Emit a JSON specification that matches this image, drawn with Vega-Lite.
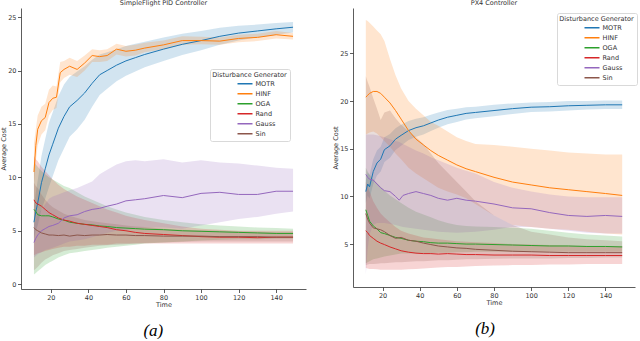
{
"$schema": "https://vega.github.io/schema/vega-lite/v6.json",
"padding": {"left": 0, "top": 0, "right": 0, "bottom": 0},
"config": {
  "view": {"stroke": null},
  "font": "DejaVu Sans",
  "axis": {"grid": false, "domainColor": "#333333", "domainWidth": 0.8, "tickColor": "#333333", "tickWidth": 0.8, "tickSize": 3.5, "labelFontSize": 6.5, "labelColor": "#333333", "labelPadding": 1.5, "titleFontSize": 6.5, "titleFontWeight": "normal", "titleColor": "#333333", "titlePadding": 1},
  "legend": {"titleFontSize": 6.5, "titleFontWeight": "normal", "titleColor": "#333333", "labelFontSize": 6.5, "labelColor": "#333333", "symbolType": "stroke", "symbolSize": 225, "symbolStrokeWidth": 1.5, "symbolOpacity": 1, "strokeColor": "#d9d9d9", "fillColor": "white", "padding": 2.5, "cornerRadius": 2, "symbolOffset": 13, "labelOffset": 2, "rowPadding": 0, "clipHeight": 9.4, "titleAnchor": "middle", "titlePadding": 1}
},
"datasets": {
"A": [
{"g":"MOTR","t":11,"m":5.8,"l":4.3,"h":7.3},{"g":"MOTR","t":12,"m":6.8,"l":5.0,"h":8.6},{"g":"MOTR","t":13,"m":7.6,"l":5.5,"h":9.7},{"g":"MOTR","t":15,"m":9.5,"l":7.0,"h":12.0},{"g":"MOTR","t":17,"m":10.8,"l":8.0,"h":13.6},{"g":"MOTR","t":19,"m":12.1,"l":9.1,"h":15.1},{"g":"MOTR","t":21,"m":13.1,"l":10.1,"h":16.1},{"g":"MOTR","t":24,"m":14.6,"l":11.6,"h":17.6},{"g":"MOTR","t":27,"m":15.7,"l":12.7,"h":18.7},{"g":"MOTR","t":30,"m":16.6,"l":13.8,"h":19.4},{"g":"MOTR","t":34,"m":17.2,"l":14.5,"h":19.9},{"g":"MOTR","t":38,"m":17.9,"l":15.4,"h":20.4},{"g":"MOTR","t":42,"m":18.8,"l":16.6,"h":21.0},{"g":"MOTR","t":46,"m":19.6,"l":17.7,"h":21.5},{"g":"MOTR","t":50,"m":20.0,"l":18.3,"h":21.7},{"g":"MOTR","t":55,"m":20.5,"l":19.0,"h":22.0},{"g":"MOTR","t":60,"m":20.9,"l":19.5,"h":22.3},{"g":"MOTR","t":65,"m":21.2,"l":19.9,"h":22.5},{"g":"MOTR","t":70,"m":21.5,"l":20.3,"h":22.7},{"g":"MOTR","t":80,"m":22.0,"l":20.9,"h":23.1},{"g":"MOTR","t":90,"m":22.45,"l":21.45,"h":23.45},{"g":"MOTR","t":100,"m":22.8,"l":21.9,"h":23.7},{"g":"MOTR","t":110,"m":23.2,"l":22.4,"h":24.0},{"g":"MOTR","t":120,"m":23.5,"l":22.8,"h":24.2},{"g":"MOTR","t":130,"m":23.7,"l":23.1,"h":24.3},{"g":"MOTR","t":140,"m":23.9,"l":23.35,"h":24.45},{"g":"MOTR","t":149,"m":24.05,"l":23.55,"h":24.55},
{"g":"HINF","t":11,"m":10.5,"l":9.3,"h":13.2},{"g":"HINF","t":12,"m":13.0,"l":11.5,"h":14.5},{"g":"HINF","t":13,"m":14.5,"l":13.0,"h":15.8},{"g":"HINF","t":15,"m":15.3,"l":14.0,"h":16.6},{"g":"HINF","t":17,"m":15.6,"l":14.4,"h":16.9},{"g":"HINF","t":19,"m":17.0,"l":15.8,"h":18.2},{"g":"HINF","t":21,"m":17.4,"l":16.3,"h":18.6},{"g":"HINF","t":23,"m":17.5,"l":16.5,"h":18.5},{"g":"HINF","t":25,"m":19.8,"l":18.9,"h":20.8},{"g":"HINF","t":27,"m":20.1,"l":19.3,"h":20.9},{"g":"HINF","t":30,"m":20.4,"l":19.6,"h":21.2},{"g":"HINF","t":34,"m":20.1,"l":19.4,"h":20.9},{"g":"HINF","t":38,"m":20.7,"l":20.0,"h":21.4},{"g":"HINF","t":42,"m":21.4,"l":20.8,"h":22.0},{"g":"HINF","t":46,"m":21.3,"l":20.8,"h":21.9},{"g":"HINF","t":50,"m":21.4,"l":20.9,"h":22.0},{"g":"HINF","t":55,"m":22.0,"l":21.5,"h":22.5},{"g":"HINF","t":60,"m":21.8,"l":21.3,"h":22.3},{"g":"HINF","t":65,"m":21.9,"l":21.4,"h":22.4},{"g":"HINF","t":70,"m":22.1,"l":21.7,"h":22.6},{"g":"HINF","t":80,"m":22.4,"l":22.0,"h":22.8},{"g":"HINF","t":90,"m":22.8,"l":22.4,"h":23.2},{"g":"HINF","t":100,"m":22.8,"l":22.45,"h":23.15},{"g":"HINF","t":110,"m":22.75,"l":22.4,"h":23.1},{"g":"HINF","t":120,"m":23.0,"l":22.65,"h":23.35},{"g":"HINF","t":130,"m":23.1,"l":22.75,"h":23.45},{"g":"HINF","t":140,"m":23.35,"l":23.0,"h":23.7},{"g":"HINF","t":149,"m":23.2,"l":22.9,"h":23.5},
{"g":"OGA","t":11,"m":7.0,"l":0.9,"h":11.5},{"g":"OGA","t":12,"m":6.8,"l":1.05,"h":11.2},{"g":"OGA","t":13,"m":6.5,"l":1.2,"h":11.0},{"g":"OGA","t":15,"m":6.4,"l":1.5,"h":10.6},{"g":"OGA","t":17,"m":6.4,"l":1.8,"h":10.3},{"g":"OGA","t":19,"m":6.4,"l":2.0,"h":10.0},{"g":"OGA","t":21,"m":6.3,"l":2.2,"h":9.8},{"g":"OGA","t":24,"m":6.1,"l":2.5,"h":9.5},{"g":"OGA","t":27,"m":6.0,"l":2.7,"h":9.2},{"g":"OGA","t":30,"m":5.8,"l":2.9,"h":9.0},{"g":"OGA","t":34,"m":5.7,"l":3.0,"h":8.6},{"g":"OGA","t":38,"m":5.6,"l":3.1,"h":8.2},{"g":"OGA","t":42,"m":5.55,"l":3.2,"h":7.9},{"g":"OGA","t":46,"m":5.45,"l":3.3,"h":7.6},{"g":"OGA","t":50,"m":5.4,"l":3.4,"h":7.3},{"g":"OGA","t":55,"m":5.3,"l":3.5,"h":7.0},{"g":"OGA","t":60,"m":5.25,"l":3.6,"h":6.7},{"g":"OGA","t":65,"m":5.2,"l":3.7,"h":6.5},{"g":"OGA","t":70,"m":5.15,"l":3.8,"h":6.3},{"g":"OGA","t":80,"m":5.1,"l":3.9,"h":6.0},{"g":"OGA","t":90,"m":5.0,"l":4.0,"h":5.8},{"g":"OGA","t":100,"m":4.95,"l":4.1,"h":5.6},{"g":"OGA","t":110,"m":4.9,"l":4.15,"h":5.5},{"g":"OGA","t":120,"m":4.85,"l":4.2,"h":5.4},{"g":"OGA","t":130,"m":4.8,"l":4.2,"h":5.3},{"g":"OGA","t":140,"m":4.75,"l":4.25,"h":5.25},{"g":"OGA","t":149,"m":4.75,"l":4.25,"h":5.2},
{"g":"Rand","t":11,"m":7.9,"l":2.7,"h":12.0},{"g":"Rand","t":12,"m":7.6,"l":2.8,"h":11.7},{"g":"Rand","t":13,"m":7.5,"l":2.9,"h":11.5},{"g":"Rand","t":15,"m":7.3,"l":3.0,"h":11.0},{"g":"Rand","t":17,"m":7.0,"l":3.1,"h":10.6},{"g":"Rand","t":19,"m":6.7,"l":3.2,"h":10.2},{"g":"Rand","t":21,"m":6.5,"l":3.3,"h":9.8},{"g":"Rand","t":24,"m":6.2,"l":3.4,"h":9.3},{"g":"Rand","t":27,"m":6.0,"l":3.5,"h":8.9},{"g":"Rand","t":30,"m":5.9,"l":3.5,"h":8.6},{"g":"Rand","t":34,"m":5.7,"l":3.6,"h":8.2},{"g":"Rand","t":38,"m":5.6,"l":3.6,"h":7.9},{"g":"Rand","t":42,"m":5.5,"l":3.7,"h":7.6},{"g":"Rand","t":46,"m":5.4,"l":3.7,"h":7.3},{"g":"Rand","t":50,"m":5.3,"l":3.7,"h":7.0},{"g":"Rand","t":55,"m":5.1,"l":3.8,"h":6.7},{"g":"Rand","t":60,"m":5.0,"l":3.8,"h":6.4},{"g":"Rand","t":65,"m":4.85,"l":3.8,"h":6.2},{"g":"Rand","t":70,"m":4.75,"l":3.8,"h":6.0},{"g":"Rand","t":80,"m":4.65,"l":3.8,"h":5.7},{"g":"Rand","t":90,"m":4.55,"l":3.8,"h":5.4},{"g":"Rand","t":100,"m":4.45,"l":3.8,"h":5.2},{"g":"Rand","t":110,"m":4.4,"l":3.8,"h":5.1},{"g":"Rand","t":120,"m":4.4,"l":3.8,"h":5.0},{"g":"Rand","t":130,"m":4.35,"l":3.8,"h":5.0},{"g":"Rand","t":140,"m":4.4,"l":3.8,"h":5.0},{"g":"Rand","t":149,"m":4.4,"l":3.8,"h":5.0},
{"g":"Gauss","t":11,"m":3.9,"l":2.5,"h":5.5},{"g":"Gauss","t":12,"m":4.3,"l":2.65,"h":6.0},{"g":"Gauss","t":13,"m":4.6,"l":2.8,"h":6.5},{"g":"Gauss","t":15,"m":5.0,"l":3.0,"h":7.0},{"g":"Gauss","t":17,"m":5.2,"l":3.2,"h":7.5},{"g":"Gauss","t":19,"m":5.4,"l":3.3,"h":8.0},{"g":"Gauss","t":21,"m":5.5,"l":3.4,"h":8.2},{"g":"Gauss","t":24,"m":5.7,"l":3.6,"h":8.4},{"g":"Gauss","t":27,"m":6.2,"l":3.8,"h":8.6},{"g":"Gauss","t":30,"m":6.4,"l":4.0,"h":8.8},{"g":"Gauss","t":34,"m":6.5,"l":4.1,"h":9.0},{"g":"Gauss","t":38,"m":6.8,"l":4.2,"h":9.3},{"g":"Gauss","t":42,"m":7.0,"l":4.4,"h":9.6},{"g":"Gauss","t":46,"m":7.1,"l":4.6,"h":10.3},{"g":"Gauss","t":50,"m":7.3,"l":4.8,"h":10.7},{"g":"Gauss","t":55,"m":7.5,"l":5.0,"h":11.2},{"g":"Gauss","t":60,"m":7.8,"l":5.1,"h":11.5},{"g":"Gauss","t":65,"m":7.9,"l":5.2,"h":11.6},{"g":"Gauss","t":70,"m":8.0,"l":5.3,"h":11.5},{"g":"Gauss","t":80,"m":8.3,"l":5.3,"h":11.7},{"g":"Gauss","t":90,"m":8.1,"l":5.2,"h":11.4},{"g":"Gauss","t":100,"m":8.5,"l":5.5,"h":11.6},{"g":"Gauss","t":110,"m":8.6,"l":5.8,"h":11.4},{"g":"Gauss","t":120,"m":8.4,"l":6.1,"h":11.3},{"g":"Gauss","t":130,"m":8.4,"l":6.3,"h":11.1},{"g":"Gauss","t":140,"m":8.7,"l":6.6,"h":10.9},{"g":"Gauss","t":149,"m":8.7,"l":6.8,"h":10.8},
{"g":"Sin","t":11,"m":5.3,"l":1.3,"h":9.5},{"g":"Sin","t":12,"m":5.1,"l":1.45,"h":9.2},{"g":"Sin","t":13,"m":5.0,"l":1.6,"h":9.0},{"g":"Sin","t":15,"m":4.8,"l":2.0,"h":8.4},{"g":"Sin","t":17,"m":4.7,"l":2.3,"h":7.9},{"g":"Sin","t":19,"m":4.6,"l":2.5,"h":7.5},{"g":"Sin","t":21,"m":4.6,"l":2.7,"h":7.2},{"g":"Sin","t":24,"m":4.55,"l":2.9,"h":6.9},{"g":"Sin","t":27,"m":4.6,"l":3.1,"h":6.6},{"g":"Sin","t":30,"m":4.5,"l":3.2,"h":6.4},{"g":"Sin","t":34,"m":4.6,"l":3.3,"h":6.2},{"g":"Sin","t":38,"m":4.55,"l":3.4,"h":6.0},{"g":"Sin","t":42,"m":4.6,"l":3.5,"h":5.9},{"g":"Sin","t":46,"m":4.6,"l":3.6,"h":5.8},{"g":"Sin","t":50,"m":4.65,"l":3.65,"h":5.7},{"g":"Sin","t":55,"m":4.6,"l":3.7,"h":5.6},{"g":"Sin","t":60,"m":4.6,"l":3.75,"h":5.5},{"g":"Sin","t":65,"m":4.55,"l":3.8,"h":5.4},{"g":"Sin","t":70,"m":4.55,"l":3.85,"h":5.35},{"g":"Sin","t":80,"m":4.5,"l":3.9,"h":5.2},{"g":"Sin","t":90,"m":4.5,"l":3.95,"h":5.1},{"g":"Sin","t":100,"m":4.5,"l":4.0,"h":5.05},{"g":"Sin","t":110,"m":4.45,"l":4.0,"h":5.0},{"g":"Sin","t":120,"m":4.45,"l":4.0,"h":4.95},{"g":"Sin","t":130,"m":4.45,"l":4.0,"h":4.9},{"g":"Sin","t":140,"m":4.4,"l":4.0,"h":4.85},{"g":"Sin","t":149,"m":4.4,"l":4.0,"h":4.85}
],
"B": [
{"g":"MOTR","t":11,"m":10.5,"l":9.3,"h":11.7},{"g":"MOTR","t":12,"m":11.3,"l":10.1,"h":12.5},{"g":"MOTR","t":13,"m":11.0,"l":9.75,"h":12.25},{"g":"MOTR","t":15,"m":12.6,"l":11.3,"h":13.9},{"g":"MOTR","t":17,"m":13.5,"l":12.2,"h":14.8},{"g":"MOTR","t":19,"m":13.9,"l":12.6,"h":15.2},{"g":"MOTR","t":21,"m":14.9,"l":13.6,"h":16.2},{"g":"MOTR","t":24,"m":15.3,"l":14.05,"h":16.55},{"g":"MOTR","t":27,"m":16.0,"l":14.85,"h":17.15},{"g":"MOTR","t":30,"m":16.4,"l":15.3,"h":17.5},{"g":"MOTR","t":34,"m":16.9,"l":15.9,"h":17.9},{"g":"MOTR","t":38,"m":17.2,"l":16.25,"h":18.15},{"g":"MOTR","t":42,"m":17.4,"l":16.5,"h":18.3},{"g":"MOTR","t":46,"m":17.7,"l":16.85,"h":18.55},{"g":"MOTR","t":50,"m":18.0,"l":17.2,"h":18.8},{"g":"MOTR","t":55,"m":18.3,"l":17.55,"h":19.05},{"g":"MOTR","t":60,"m":18.5,"l":17.8,"h":19.2},{"g":"MOTR","t":65,"m":18.7,"l":18.05,"h":19.35},{"g":"MOTR","t":70,"m":18.8,"l":18.2,"h":19.4},{"g":"MOTR","t":80,"m":19.0,"l":18.4,"h":19.6},{"g":"MOTR","t":90,"m":19.2,"l":18.65,"h":19.75},{"g":"MOTR","t":100,"m":19.35,"l":18.85,"h":19.85},{"g":"MOTR","t":110,"m":19.4,"l":18.9,"h":19.9},{"g":"MOTR","t":120,"m":19.5,"l":19.0,"h":20.0},{"g":"MOTR","t":130,"m":19.55,"l":19.1,"h":20.0},{"g":"MOTR","t":140,"m":19.6,"l":19.15,"h":20.05},{"g":"MOTR","t":149,"m":19.6,"l":19.15,"h":20.05},
{"g":"HINF","t":11,"m":20.4,"l":16.5,"h":28.5},{"g":"HINF","t":12,"m":20.6,"l":16.6,"h":28.4},{"g":"HINF","t":13,"m":20.8,"l":16.7,"h":28.2},{"g":"HINF","t":15,"m":21.0,"l":16.8,"h":27.8},{"g":"HINF","t":17,"m":21.0,"l":16.6,"h":27.4},{"g":"HINF","t":19,"m":20.8,"l":16.2,"h":27.0},{"g":"HINF","t":21,"m":20.4,"l":15.8,"h":26.3},{"g":"HINF","t":24,"m":19.8,"l":15.2,"h":24.4},{"g":"HINF","t":27,"m":19.0,"l":14.5,"h":22.7},{"g":"HINF","t":30,"m":18.1,"l":13.9,"h":21.3},{"g":"HINF","t":34,"m":16.9,"l":13.0,"h":20.0},{"g":"HINF","t":38,"m":16.0,"l":12.4,"h":19.2},{"g":"HINF","t":42,"m":15.4,"l":11.9,"h":18.5},{"g":"HINF","t":46,"m":14.8,"l":11.4,"h":17.8},{"g":"HINF","t":50,"m":14.3,"l":10.9,"h":17.4},{"g":"HINF","t":55,"m":13.8,"l":10.5,"h":16.8},{"g":"HINF","t":60,"m":13.3,"l":10.2,"h":16.2},{"g":"HINF","t":65,"m":12.9,"l":9.8,"h":15.8},{"g":"HINF","t":70,"m":12.6,"l":9.2,"h":15.5},{"g":"HINF","t":80,"m":12.0,"l":8.0,"h":15.4},{"g":"HINF","t":90,"m":11.5,"l":7.0,"h":15.2},{"g":"HINF","t":100,"m":11.2,"l":6.8,"h":15.0},{"g":"HINF","t":110,"m":10.9,"l":6.6,"h":14.8},{"g":"HINF","t":120,"m":10.7,"l":6.5,"h":14.6},{"g":"HINF","t":130,"m":10.5,"l":6.3,"h":14.5},{"g":"HINF","t":140,"m":10.3,"l":6.1,"h":14.4},{"g":"HINF","t":149,"m":10.1,"l":6.0,"h":14.4},
{"g":"OGA","t":11,"m":8.6,"l":3.0,"h":13.0},{"g":"OGA","t":12,"m":8.0,"l":3.1,"h":12.6},{"g":"OGA","t":13,"m":7.4,"l":3.2,"h":12.3},{"g":"OGA","t":15,"m":6.9,"l":3.4,"h":11.8},{"g":"OGA","t":17,"m":6.6,"l":3.5,"h":11.4},{"g":"OGA","t":19,"m":6.2,"l":3.6,"h":11.0},{"g":"OGA","t":21,"m":6.1,"l":3.7,"h":10.6},{"g":"OGA","t":24,"m":5.9,"l":3.8,"h":10.1},{"g":"OGA","t":27,"m":5.7,"l":3.9,"h":9.7},{"g":"OGA","t":30,"m":5.6,"l":4.0,"h":9.3},{"g":"OGA","t":34,"m":5.4,"l":4.0,"h":8.8},{"g":"OGA","t":38,"m":5.3,"l":4.0,"h":8.4},{"g":"OGA","t":42,"m":5.25,"l":4.0,"h":8.1},{"g":"OGA","t":46,"m":5.15,"l":4.05,"h":7.8},{"g":"OGA","t":50,"m":5.1,"l":4.1,"h":7.5},{"g":"OGA","t":55,"m":5.1,"l":4.1,"h":7.2},{"g":"OGA","t":60,"m":5.05,"l":4.15,"h":7.0},{"g":"OGA","t":65,"m":5.0,"l":4.15,"h":6.9},{"g":"OGA","t":70,"m":5.0,"l":4.2,"h":6.85},{"g":"OGA","t":80,"m":4.95,"l":4.2,"h":6.8},{"g":"OGA","t":90,"m":4.9,"l":4.2,"h":6.7},{"g":"OGA","t":100,"m":4.85,"l":4.2,"h":6.6},{"g":"OGA","t":110,"m":4.8,"l":4.2,"h":6.4},{"g":"OGA","t":120,"m":4.8,"l":4.2,"h":6.2},{"g":"OGA","t":130,"m":4.75,"l":4.2,"h":6.0},{"g":"OGA","t":140,"m":4.75,"l":4.2,"h":5.9},{"g":"OGA","t":149,"m":4.7,"l":4.2,"h":5.8},
{"g":"Rand","t":11,"m":6.4,"l":2.5,"h":11.5},{"g":"Rand","t":12,"m":6.2,"l":2.45,"h":11.0},{"g":"Rand","t":13,"m":5.9,"l":2.4,"h":10.5},{"g":"Rand","t":15,"m":5.6,"l":2.4,"h":9.5},{"g":"Rand","t":17,"m":5.3,"l":2.35,"h":8.8},{"g":"Rand","t":19,"m":5.1,"l":2.3,"h":8.2},{"g":"Rand","t":21,"m":4.95,"l":2.3,"h":7.8},{"g":"Rand","t":24,"m":4.7,"l":2.3,"h":7.3},{"g":"Rand","t":27,"m":4.5,"l":2.3,"h":6.8},{"g":"Rand","t":30,"m":4.3,"l":2.3,"h":6.4},{"g":"Rand","t":34,"m":4.15,"l":2.35,"h":6.1},{"g":"Rand","t":38,"m":4.05,"l":2.4,"h":5.9},{"g":"Rand","t":42,"m":4.0,"l":2.45,"h":5.7},{"g":"Rand","t":46,"m":4.0,"l":2.5,"h":5.6},{"g":"Rand","t":50,"m":3.95,"l":2.55,"h":5.5},{"g":"Rand","t":55,"m":4.0,"l":2.6,"h":5.4},{"g":"Rand","t":60,"m":3.95,"l":2.6,"h":5.3},{"g":"Rand","t":65,"m":3.9,"l":2.65,"h":5.25},{"g":"Rand","t":70,"m":3.9,"l":2.7,"h":5.2},{"g":"Rand","t":80,"m":3.85,"l":2.75,"h":5.1},{"g":"Rand","t":90,"m":3.85,"l":2.8,"h":5.0},{"g":"Rand","t":100,"m":3.85,"l":2.8,"h":4.95},{"g":"Rand","t":110,"m":3.8,"l":2.85,"h":4.9},{"g":"Rand","t":120,"m":3.8,"l":2.85,"h":4.85},{"g":"Rand","t":130,"m":3.8,"l":2.9,"h":4.8},{"g":"Rand","t":140,"m":3.8,"l":2.9,"h":4.8},{"g":"Rand","t":149,"m":3.8,"l":2.9,"h":4.8},
{"g":"Gauss","t":11,"m":12.3,"l":1.8,"h":16.5},{"g":"Gauss","t":12,"m":12.0,"l":4.5,"h":16.5},{"g":"Gauss","t":13,"m":11.8,"l":6.0,"h":16.5},{"g":"Gauss","t":15,"m":11.7,"l":7.0,"h":16.5},{"g":"Gauss","t":17,"m":11.3,"l":7.2,"h":16.4},{"g":"Gauss","t":19,"m":10.9,"l":7.2,"h":16.3},{"g":"Gauss","t":21,"m":10.6,"l":7.2,"h":16.2},{"g":"Gauss","t":24,"m":10.5,"l":7.1,"h":16.0},{"g":"Gauss","t":27,"m":10.0,"l":7.0,"h":15.8},{"g":"Gauss","t":29,"m":9.6,"l":6.9,"h":15.7},{"g":"Gauss","t":31,"m":10.1,"l":6.8,"h":15.5},{"g":"Gauss","t":34,"m":10.3,"l":6.7,"h":15.2},{"g":"Gauss","t":38,"m":10.5,"l":6.6,"h":14.8},{"g":"Gauss","t":42,"m":10.3,"l":6.5,"h":14.5},{"g":"Gauss","t":46,"m":10.1,"l":6.4,"h":14.1},{"g":"Gauss","t":50,"m":9.8,"l":6.3,"h":13.8},{"g":"Gauss","t":55,"m":9.6,"l":6.25,"h":13.4},{"g":"Gauss","t":60,"m":9.8,"l":6.2,"h":13.0},{"g":"Gauss","t":65,"m":9.6,"l":6.25,"h":12.7},{"g":"Gauss","t":70,"m":9.5,"l":6.3,"h":12.4},{"g":"Gauss","t":80,"m":9.2,"l":6.5,"h":11.5},{"g":"Gauss","t":90,"m":8.8,"l":6.8,"h":10.9},{"g":"Gauss","t":100,"m":8.7,"l":6.8,"h":10.5},{"g":"Gauss","t":110,"m":8.3,"l":6.6,"h":10.2},{"g":"Gauss","t":120,"m":8.0,"l":6.4,"h":10.0},{"g":"Gauss","t":130,"m":7.9,"l":6.2,"h":9.9},{"g":"Gauss","t":140,"m":8.0,"l":6.1,"h":9.9},{"g":"Gauss","t":149,"m":7.9,"l":6.1,"h":9.9},
{"g":"Sin","t":11,"m":8.2,"l":2.8,"h":22.6},{"g":"Sin","t":12,"m":7.6,"l":2.85,"h":22.0},{"g":"Sin","t":13,"m":7.2,"l":2.9,"h":21.5},{"g":"Sin","t":15,"m":6.7,"l":2.9,"h":20.3},{"g":"Sin","t":17,"m":6.6,"l":2.95,"h":19.2},{"g":"Sin","t":19,"m":6.5,"l":3.0,"h":18.0},{"g":"Sin","t":21,"m":6.3,"l":3.0,"h":18.8},{"g":"Sin","t":24,"m":5.9,"l":3.05,"h":19.0},{"g":"Sin","t":27,"m":5.6,"l":3.1,"h":18.2},{"g":"Sin","t":30,"m":5.7,"l":3.1,"h":17.5},{"g":"Sin","t":34,"m":5.4,"l":3.15,"h":16.8},{"g":"Sin","t":38,"m":5.3,"l":3.2,"h":16.2},{"g":"Sin","t":42,"m":5.1,"l":3.2,"h":15.5},{"g":"Sin","t":46,"m":4.95,"l":3.25,"h":14.5},{"g":"Sin","t":50,"m":4.8,"l":3.3,"h":13.5},{"g":"Sin","t":55,"m":4.7,"l":3.3,"h":12.5},{"g":"Sin","t":60,"m":4.6,"l":3.35,"h":11.5},{"g":"Sin","t":65,"m":4.55,"l":3.4,"h":10.5},{"g":"Sin","t":70,"m":4.45,"l":3.4,"h":9.5},{"g":"Sin","t":80,"m":4.35,"l":3.45,"h":8.0},{"g":"Sin","t":90,"m":4.25,"l":3.5,"h":7.0},{"g":"Sin","t":100,"m":4.2,"l":3.5,"h":6.3},{"g":"Sin","t":110,"m":4.15,"l":3.5,"h":6.0},{"g":"Sin","t":120,"m":4.1,"l":3.55,"h":5.7},{"g":"Sin","t":130,"m":4.1,"l":3.55,"h":5.5},{"g":"Sin","t":140,"m":4.1,"l":3.6,"h":5.4},{"g":"Sin","t":149,"m":4.1,"l":3.6,"h":5.3}
]
},
"spacing": 26,
"hconcat": [
{
  "title": {"text": "(a)", "orient": "bottom", "anchor": "middle", "frame": "bounds", "font": "Liberation Serif", "fontStyle": "italic", "fontWeight": "normal", "fontSize": 17, "color": "#000000", "offset": 15},
  "vconcat": [
  {
    "title": {"text": "SimpleFlight PID Controller", "anchor": "middle", "frame": "group", "fontSize": 6.5, "fontWeight": "normal", "color": "#333333", "offset": 1.5},
    "width": 285, "height": 281,
    "data": {"name": "A"},
    "encoding": {
      "x": {"field": "t", "type": "quantitative", "scale": {"domain": [4.1, 155.9], "nice": false, "zero": false}, "axis": {"title": "Time", "values": [20,40,60,80,100,120,140]}},
      "color": {"field": "g", "type": "nominal", "scale": {"domain": ["MOTR","HINF","OGA","Rand","Gauss","Sin"], "range": ["#1f77b4","#ff7f0e","#2ca02c","#d62728","#9467bd","#8c564b"]}, "legend": {"title": "Disturbance Generator", "orient": "none", "legendX": 189, "legendY": 61, "symbolType": "stroke", "symbolOpacity": 1}}
    },
    "layer": [
      {"mark": {"type": "area", "fillOpacity": 0.2},
       "encoding": {
         "y": {"field": "l", "type": "quantitative", "scale": {"domain": [-0.45, 25.85], "nice": false, "zero": false}, "axis": {"title": "Average Cost", "values": [0,5,10,15,20,25]}},
         "y2": {"field": "h"}
       }},
      {"mark": {"type": "line", "strokeWidth": 1},
       "encoding": {
         "y": {"field": "m", "type": "quantitative", "axis": {"title": "Average Cost", "values": [0,5,10,15,20,25]}}
       }}
    ]
  }
  ]
},
{
  "title": {"text": "(b)", "orient": "bottom", "anchor": "middle", "frame": "bounds", "font": "Liberation Serif", "fontStyle": "italic", "fontWeight": "normal", "fontSize": 17, "color": "#000000", "offset": 15},
  "vconcat": [
  {
    "title": {"text": "PX4 Controller", "anchor": "middle", "frame": "group", "fontSize": 6.5, "fontWeight": "normal", "color": "#333333", "offset": 1.5},
    "width": 282, "height": 279,
    "data": {"name": "B"},
    "encoding": {
      "x": {"field": "t", "type": "quantitative", "scale": {"domain": [4.1, 155.9], "nice": false, "zero": false}, "axis": {"title": "Time", "values": [20,40,60,80,100,120,140]}},
      "color": {"field": "g", "type": "nominal", "scale": {"domain": ["MOTR","HINF","OGA","Rand","Gauss","Sin"], "range": ["#1f77b4","#ff7f0e","#2ca02c","#d62728","#9467bd","#8c564b"]}, "legend": {"title": "Disturbance Generator", "orient": "none", "legendX": 204, "legendY": 5, "symbolType": "stroke", "symbolOpacity": 1}}
    },
    "layer": [
      {"mark": {"type": "area", "fillOpacity": 0.2},
       "encoding": {
         "y": {"field": "l", "type": "quantitative", "scale": {"domain": [0.5, 29.75], "nice": false, "zero": false}, "axis": {"title": "Average Cost", "values": [5,10,15,20,25]}},
         "y2": {"field": "h"}
       }},
      {"mark": {"type": "line", "strokeWidth": 1},
       "encoding": {
         "y": {"field": "m", "type": "quantitative", "axis": {"title": "Average Cost", "values": [5,10,15,20,25]}}
       }}
    ]
  }
  ]
}
],
"resolve": {"scale": {"color": "independent"}, "legend": {"color": "independent"}}
}
